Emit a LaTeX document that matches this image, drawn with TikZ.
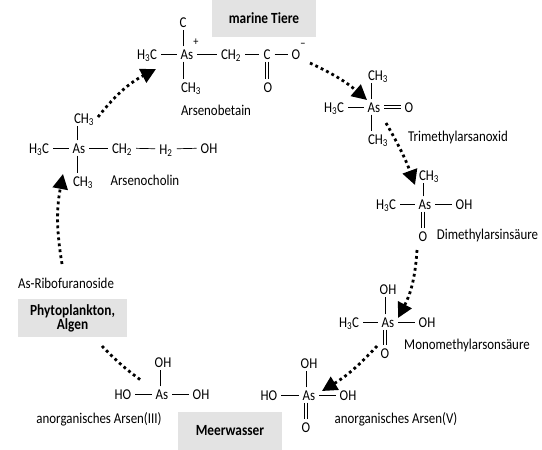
\documentclass[tikz,border=0pt]{standalone}
\usepackage{fontspec}
\setmainfont[FakeStretch=0.86]{Carlito}
\usetikzlibrary{arrows.meta}
\definecolor{boxgray}{HTML}{E3E3E3}
\tikzset{
  atom/.style={inner xsep=4pt, inner ysep=2.5pt, text height=10pt, text depth=0pt, font=\fontsize{15}{15}\selectfont},
  charge/.style={inner sep=0pt, font=\fontsize{12}{12}\selectfont},
  label/.style={inner sep=0pt, font=\fontsize{15}{15}\selectfont},
  place/.style={fill=boxgray, inner sep=0pt, align=center, font=\fontsize{15.5}{14}\selectfont\bfseries},
  bond/.style={black, line width=0.7pt},
  dbond/.style={bond, double, double distance=2pt},
  flow/.style={black, line width=2.8pt, dash pattern=on 2.8pt off 3.2pt, -{Triangle[length=15pt,width=15pt]}},
  flowend/.style={black, line width=2.8pt, dash pattern=on 2.8pt off 3.2pt}
}
\begin{document}
\begin{tikzpicture}[x=1pt,y=-1pt]
\useasboundingbox (0,0) rectangle (542,450);

% grey boxes
\node[place, minimum width=104pt, minimum height=37pt] (tiere) at (264,18.5) {marine Tiere};
\node[place, minimum width=109pt, minimum height=38pt] (algen) at (72.5,318) {Phytoplankton,\\Algen};
\node[place, minimum width=104pt, minimum height=38pt] (wasser) at (230,431) {Meerwasser};

% Arsenobetain
\node[atom] (hc1) at (147,54) {H\textsubscript{3}C};
\node[atom] (as1) at (187,54) {As};
\node[charge] (plus1) at (196,42) {+};
\node[atom] (ch1) at (231,54) {CH\textsubscript{2}};
\node[atom] (c1) at (267,54) {C};
\node[atom] (o1) at (296,54) {O};
\node[charge] (minus1) at (303,45) {−};
\node[atom] (top1) at (183,22) {C};
\node[atom] (bot1) at (191,87) {CH\textsubscript{3}};
\node[atom] (od1) at (268,87) {O};
\node[label] (name1) at (216,110) {Arsenobetain};
\draw[bond] (hc1) -- (as1);
\draw[bond] (as1) -- (ch1);
\draw[bond] (ch1) -- (c1);
\draw[bond] (c1) -- (o1);
\draw[bond] ([xshift=-4pt]as1.north) -- ([xshift=-4pt]as1.north |- top1.south);
\draw[bond] ([xshift=-4pt]as1.south) -- ([xshift=-4pt]as1.south |- bot1.north);
\draw[dbond] (c1.south) -- (c1.south |- od1.north);

% Trimethylarsanoxid
\node[atom] (hc2) at (334,107) {H\textsubscript{3}C};
\node[atom] (as2) at (374,107) {As};
\node[atom] (o2) at (409,107) {O};
\node[atom] (top2) at (378,75) {CH\textsubscript{3}};
\node[atom] (bot2) at (378,139) {CH\textsubscript{3}};
\node[label] (name2) at (458,137) {Trimethylarsanoxid};
\draw[bond] (hc2) -- (as2);
\draw[dbond] (as2) -- (o2);
\draw[bond] ([xshift=-3pt]as2.north) -- ([xshift=-3pt]as2.north |- top2.south);
\draw[bond] ([xshift=-3pt]as2.south) -- ([xshift=-3pt]as2.south |- bot2.north);

% Dimethylarsinsaeure
\node[atom] (hc3) at (386,204) {H\textsubscript{3}C};
\node[atom] (as3) at (425,204) {As};
\node[atom] (oh3) at (464,204) {OH};
\node[atom] (top3) at (429,175) {CH\textsubscript{3}};
\node[atom] (od3) at (423,236) {O};
\node[label] (name3) at (487.5,235) {Dimethylarsinsäure};
\draw[bond] (hc3) -- (as3);
\draw[bond] (as3) -- (oh3);
\draw[bond] ([xshift=-2pt]as3.north) -- ([xshift=-2pt]as3.north |- top3.south);
\draw[dbond] ([xshift=-2pt]as3.south) -- ([xshift=-2pt]as3.south |- od3.north);

% Monomethylarsonsaeure
\node[atom] (hc4) at (349,322) {H\textsubscript{3}C};
\node[atom] (as4) at (388,322) {As};
\node[atom] (oh4) at (427,322) {OH};
\node[atom] (top4) at (388,289) {OH};
\node[atom] (od4) at (385,353) {O};
\node[label] (name4) at (467,345) {Monomethylarsonsäure};
\draw[bond] (hc4) -- (as4);
\draw[bond] (as4) -- (oh4);
\draw[bond] ([xshift=-3pt]as4.north) -- ([xshift=-3pt]as4.north |- top4.south);
\draw[dbond] ([xshift=-3pt]as4.south) -- ([xshift=-3pt]as4.south |- od4.north);

% anorganisches Arsen(V)
\node[atom] (ho5) at (269,395) {HO};
\node[atom] (as5) at (309,395) {As};
\node[atom] (oh5) at (348,395) {OH};
\node[atom] (top5) at (309,363) {OH};
\node[atom] (od5) at (306,427) {O};
\node[label] (name5) at (396,419) {anorganisches Arsen(V)};
\draw[bond] (ho5) -- (as5);
\draw[bond] (as5) -- (oh5);
\draw[bond] ([xshift=-3pt]as5.north) -- ([xshift=-3pt]as5.north |- top5.south);
\draw[dbond] ([xshift=-3pt]as5.south) -- ([xshift=-3pt]as5.south |- od5.north);

% anorganisches Arsen(III)
\node[atom] (ho6) at (123,394) {HO};
\node[atom] (as6) at (162,394) {As};
\node[atom] (oh6) at (201,394) {OH};
\node[atom] (top6) at (163,362) {OH};
\node[label] (name6) at (99,419) {anorganisches Arsen(III)};
\draw[bond] (ho6) -- (as6);
\draw[bond] (as6) -- (oh6);
\draw[bond] ([xshift=-2pt]as6.north) -- ([xshift=-2pt]as6.north |- top6.south);

% Arsenocholin
\node[atom] (hc7) at (39,148) {H\textsubscript{3}C};
\node[atom] (as7) at (79,148) {As};
\node[atom] (ch7) at (122,148) {CH\textsubscript{2}};
\node[atom] (h7) at (166,149) {H\textsubscript{2}};
\node[atom] (oh7) at (209,148) {OH};
\node[atom] (top7) at (84,118) {CH\textsubscript{3}};
\node[atom] (bot7) at (83,181) {CH\textsubscript{3}};
\node[label] (name7) at (145,180) {Arsenocholin};
\node[label] (name8) at (66,283) {As-Ribofuranoside};
\draw[bond] (hc7) -- (as7);
\draw[bond] (as7) -- (ch7);
\draw[bond] (ch7) -- (h7);
\draw[bond] (h7) -- (oh7);
\draw[bond] ([xshift=-2pt]as7.north) -- ([xshift=-2pt]as7.north |- top7.south);
\draw[bond] ([xshift=-2pt]as7.south) -- ([xshift=-2pt]as7.south |- bot7.north);

% dotted cycle
\coordinate (s1) at (62,264);   \coordinate (e1) at (63,174);
\coordinate (s2) at (98,117);   \coordinate (e2) at (156,69);
\coordinate (s3) at (310,63);   \coordinate (e3) at (367,100);
\coordinate (s4) at (386,123);  \coordinate (e4) at (415,185);
\coordinate (s5) at (417,250);  \coordinate (e5) at (398,318);
\coordinate (s6) at (377,346);  \coordinate (e6) at (322,391);
\coordinate (s7) at (102,346);  \coordinate (e7) at (142,381);
\draw[flow] (s1) to[bend left=10] (e1);
\draw[flow] (s2) to[bend left=12] (e2);
\draw[flow] (s3) to[bend left=8] (e3);
\draw[flow] (s4) to[bend left=5] (e4);
\draw[flow] (s5) to[bend left=12] (e5);
\draw[flow] (s6) to[bend left=8] (e6);
\draw[flowend] (s7) to[bend right=5] (e7);

\end{tikzpicture}
\end{document}
